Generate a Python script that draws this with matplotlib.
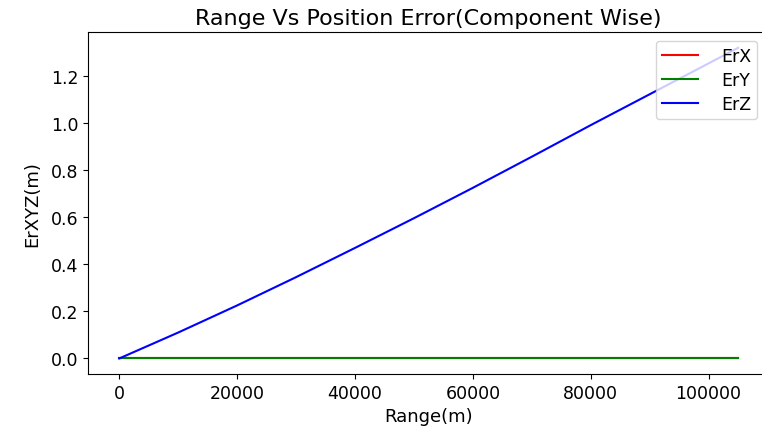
import numpy as np
import matplotlib
matplotlib.use("Agg")
import matplotlib.pyplot as plt

# values
range_m = [0, 10000, 20000, 30000, 40000, 50000, 60000, 70000, 80000, 90000, 100000, 105000]
err_x = [0.0] * len(range_m)
err_y = [0.0] * len(range_m)
err_z = [0.0, 0.110, 0.225, 0.345, 0.469, 0.595, 0.724, 0.856, 0.990, 1.121, 1.252, 1.318]

fig = plt.figure(figsize=(7.62, 4.27), dpi=100)
ax = fig.add_axes([88.3 / 762, 52 / 427, (769 - 88.3) / 762, (375 - 33.3) / 427])

ax.plot(range_m, err_x, color="red", label="ErX")
ax.plot(range_m, err_y, color="green", label="ErY")
ax.plot(range_m, err_z, color="blue", label="ErZ")

ax.set_title("Range Vs Position Error(Component Wise)", fontsize=16)
ax.set_xlabel("Range(m)", fontsize=13)
ax.set_ylabel("ErXYZ(m)", fontsize=13, labelpad=7)
ax.tick_params(labelsize=12.5)

ax.legend(loc="upper right", bbox_to_anchor=(757 / 762, (427 - 41.7) / 427),
          bbox_transform=fig.transFigure, borderaxespad=0, fontsize=12.5,
          labelspacing=0.35, handletextpad=1.3, borderpad=0.35, handlelength=2.1)

fig.savefig("out.png", dpi=100)
